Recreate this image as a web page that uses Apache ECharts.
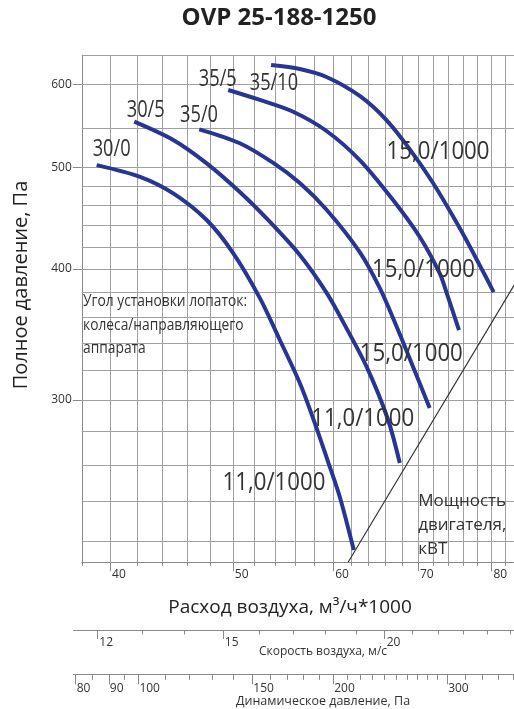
<!DOCTYPE html>
<html><head><meta charset="utf-8">
<script src="https://cdn.jsdelivr.net/npm/echarts@6/dist/echarts.min.js"></script>
<style>html,body{margin:0;padding:0;background:#fff}#c{width:514px;height:709px}</style>
</head><body><div id="c"></div>
<script>
// ---- axis ticks / grid values ----
const flowTicks = [38,40,42,44,46,48,50,52,54,56,58,60,62,64,66,68,70,72,74,76,78,80,82];
const flowGridLines = [40,42,44,46,48,50,52,54,56,58,60,62,64,66,68,70,72,74,76,78,80,82];
const flowLabels = [40,50,60,70,80];
const pressGridLines = [220,240,260,280,300,320,340,360,380,400,420,440,460,480,500,545,600,640];
const pressLabels = [300,400,500,600];
const velTicks = [12,13,14,15,16,17,18,19,20,21,22,23,24,25];
const velLabels = [12,15,20];
const dynTicks = [80,85,90,95,100,110,120,130,140,150,160,170,180,190,200,210,220,230,240,250,260,270,280,290,300,320,340,360,380];
const dynLabels = [80,90,100,150,200,300];

// ---- fan curves: [flow (m3/h*1000), total pressure (Pa)] ----
const curve30_0 = [[39.04,502.5],[42.24,489.8],[44.87,472.3],[47.68,445.4],[50.03,414.2],[52.52,375.2],[54.46,342.2],[56.47,311.3],[58.03,285.1],[59.42,262.3],[60.73,242.4],[62.29,215.7]];
const curve30_5 = [[41.80,552.8],[44.87,531.0],[47.68,504.4],[50.64,473.6],[53.49,443.5],[56.47,412.4],[59.31,379.3],[61.28,353.6],[63.78,322.4],[66.26,287.7],[67.72,261.2]];
const curve35_0 = [[47.04,543.6],[50.64,527.2],[53.81,504.9],[56.47,483.1],[59.31,455.3],[62.97,415.1],[65.31,383.5],[67.10,356.0],[69.34,323.1],[71.50,294.7]];
const curve35_5 = [[49.58,592.6],[52.52,579.8],[55.79,565.0],[59.28,541.6],[62.97,508.1],[66.90,465.4],[70.21,429.3],[72.82,396.1],[73.75,379.3],[75.41,349.8]];
const curve35_10 = [[53.60,626.1],[56.47,620.6],[59.28,609.8],[62.97,584.9],[66.10,554.8],[68.95,520.5],[71.94,483.1],[75.51,437.6],[78.30,403.4],[80.32,380.2]];
const motorLine = [[61.65,210],[84,392]];
const gridAnchor = [[38,210]];

// ---- annotations: [text, flow, pressure] ----
const angleLabels = [['30/0',40.12,520.5],['30/5',42.68,567.1],['35/0',47.02,561.0],['35/5',48.65,607.2],['35/10',53.88,601.8]];
const powerLabels = [['15,0/1000',72.60,517.1],['15,0/1000',70.71,399.0],['15,0/1000',69.16,331.8],['11,0/1000',63.31,287.7],['11,0/1000',53.88,249.9]];
const noteAngle = ['Угол установки лопаток:\nколеса/направляющего\nаппарата', 38.09, 381.9];
const notePower = ['Мощность\nдвигателя,\nкВТ', 70.02, 246.7];

const FONT = '"Open Sans", sans-serif';
const GRID_COL = '#a0a0a0';
const AXIS_COL = '#8a8a8a';
const TEXT_COL = '#333';
const CURVE_COL = '#283593';

const chart = echarts.init(document.getElementById('c'), null, {renderer:'canvas'});

function curve(name, data) {
  return {type:'line', name, data, xAxisIndex:0, yAxisIndex:0, smooth:0.3, symbol:'none',
    lineStyle:{width:4, color:CURVE_COL}, silent:true, z:5};
}

const option = {
  animation:false,
  grid:[
    {left:81.8, top:55, width:432.2, height:507.3, containLabel:false},
    {left:73.4, top:620, width:440.6, height:10},
    {left:73.4, top:664.3, width:440.6, height:10}
  ],
  xAxis:[
    {type:'log', logBase:10, gridIndex:0, min:38, max:83.34, position:'bottom',
      axisLine:{show:true, lineStyle:{color:AXIS_COL, width:1}},
      axisTick:{show:true, customValues:flowTicks, length:3.5, lineStyle:{color:AXIS_COL}},
      axisLabel:{show:true, customValues:flowLabels, fontFamily:FONT, fontSize:12, color:TEXT_COL, align:'left', margin:6, padding:[0,0,0,2]},
      splitLine:{show:false}},
    {type:'log', logBase:10, gridIndex:0, min:38, max:83.34, position:'bottom',
      axisLine:{show:false},
      axisTick:{show:true, customValues:flowLabels, length:9, lineStyle:{color:AXIS_COL}},
      axisLabel:{show:false}, splitLine:{show:false}},
    {type:'log', logBase:10, gridIndex:1, min:11.5, max:25.17, position:'bottom',
      axisLine:{show:true, lineStyle:{color:AXIS_COL}},
      axisTick:{show:true, customValues:velTicks, length:4.5, lineStyle:{color:AXIS_COL}},
      axisLabel:{show:false}, splitLine:{show:false}},
    {type:'log', logBase:10, gridIndex:1, min:11.5, max:25.17, position:'bottom',
      axisLine:{show:false},
      axisTick:{show:true, customValues:velLabels, length:9, lineStyle:{color:AXIS_COL}},
      axisLabel:{show:true, customValues:velLabels, fontFamily:FONT, fontSize:12, color:TEXT_COL, align:'left', margin:7, padding:[0,0,0,2]},
      splitLine:{show:false}},
    {type:'log', logBase:10, gridIndex:2, min:79.35, max:380.6, position:'bottom',
      axisLine:{show:true, lineStyle:{color:AXIS_COL}},
      axisTick:{show:true, customValues:dynTicks, length:5.5, lineStyle:{color:AXIS_COL}},
      axisLabel:{show:false}, splitLine:{show:false}},
    {type:'log', logBase:10, gridIndex:2, min:79.35, max:380.6, position:'bottom',
      axisLine:{show:false},
      axisTick:{show:true, customValues:dynLabels, length:10, lineStyle:{color:AXIS_COL}},
      axisLabel:{show:true, customValues:dynLabels, fontFamily:FONT, fontSize:12, color:TEXT_COL, align:'left', margin:8, padding:[0,0,0,1]},
      splitLine:{show:false}}
  ],
  yAxis:[
    {type:'log', logBase:10, gridIndex:0, min:210, max:640,
      axisLine:{show:true, lineStyle:{color:AXIS_COL, width:1}},
      axisTick:{show:true, customValues:pressLabels, length:9, lineStyle:{color:AXIS_COL}},
      axisLabel:{show:true, customValues:pressLabels, fontFamily:FONT, fontSize:12, color:TEXT_COL, margin:10},
      splitLine:{show:false}},
    {type:'value', gridIndex:1, show:false},
    {type:'value', gridIndex:2, show:false}
  ],
  series:[
    {type:'line', xAxisIndex:0, yAxisIndex:0, data:gridAnchor, symbol:'none', showSymbol:false, silent:true, z:1,
      lineStyle:{width:0},
      markLine:{silent:true, z:1, symbol:['none','none'], label:{show:false}, animation:false,
        lineStyle:{color:GRID_COL, width:1, type:'solid'},
        emphasis:{disabled:true},
        data: flowGridLines.map(v => ({xAxis:v})).concat(pressGridLines.map(v => ({yAxis:v})))}},
    {type:'line', xAxisIndex:0, yAxisIndex:0, data:motorLine, symbol:'none', silent:true, z:4,
      lineStyle:{color:'#2a2a2a', width:1.1}},
    curve('30/0', curve30_0),
    curve('30/5', curve30_5),
    curve('35/0', curve35_0),
    curve('35/5', curve35_5),
    curve('35/10', curve35_10)
  ]
};
chart.setOption(option);

// ---- text: titles (fixed) + annotations anchored to data coordinates ----
function px(x, y) { return chart.convertToPixel({xAxisIndex:0, yAxisIndex:0}, [x, y]); }
function txt(x, y, text, font, opts) {
  opts = opts || {};
  return {type:'text', x, y, silent:true, z:10, rotation:opts.rotation || 0, scaleX:opts.scaleX || 1,
    style:{text, font, fill:opts.fill || TEXT_COL, align:opts.align || 'center', verticalAlign:opts.valign || 'middle',
      lineHeight:opts.lineHeight}};
}
const graphics = [
  txt(279, 18, 'OVP 25-188-1250', 'bold 24px "Open Sans", sans-serif', {fill:'#222'}),
  txt(21.5, 285, 'Полное давление, Па', '20px "Open Sans", sans-serif', {fill:'#222', rotation:Math.PI/2}),
  txt(290, 608, 'Расход воздуха, м³/ч*1000', '19px "Open Sans", sans-serif', {fill:'#222'}),
  txt(323, 652, 'Скорость воздуха, м/с', '12px "Open Sans", sans-serif'),
  txt(323, 701, 'Динамическое давление, Па', '12.5px "Open Sans", sans-serif')
];
angleLabels.forEach(l => { const p = px(l[1], l[2]); graphics.push(txt(p[0], p[1], l[0], '24px "Open Sans", sans-serif', {scaleX:0.76})); });
powerLabels.forEach(l => { const p = px(l[1], l[2]); graphics.push(txt(p[0], p[1], l[0], '25px "Open Sans", sans-serif', {scaleX:0.89})); });
(function(){ const p = px(noteAngle[1], noteAngle[2]);
  graphics.push(txt(p[0], p[1], noteAngle[0], '16px "Open Sans", sans-serif', {align:'left', valign:'top', scaleX:0.86, lineHeight:23.3})); })();
(function(){ const p = px(notePower[1], notePower[2]);
  graphics.push(txt(p[0], p[1], notePower[0], '17px "Open Sans", sans-serif', {align:'left', valign:'top', lineHeight:24})); })();
chart.setOption({graphic: graphics});
</script>
</body></html>
